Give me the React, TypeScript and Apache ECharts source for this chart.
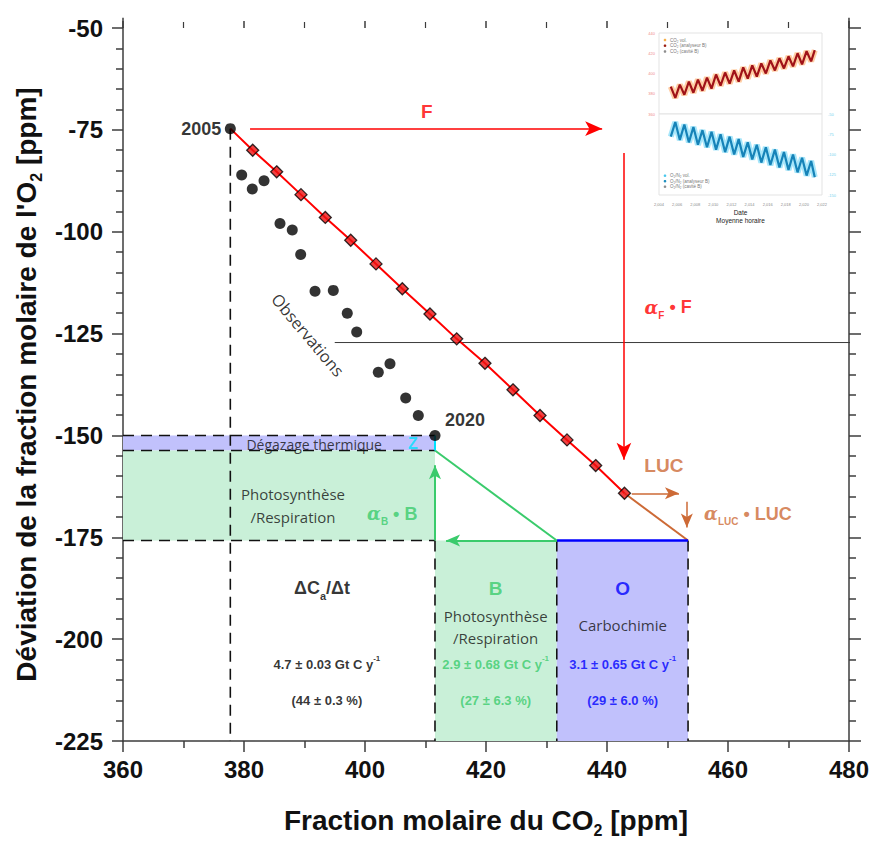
import React, { useEffect, useRef } from "react";
import * as echarts from "echarts";

// ---------- data ----------
// Observed CO2 / O2 pairs, 2005 → 2020 (black dots)
const obsCO2 = [377.74, 379.62, 381.37, 383.31, 385.95, 387.98, 389.37, 391.74, 394.76, 397.07, 398.63, 402.2, 404.13, 406.73, 408.81, 411.57];
const obsO2 = [-74.7, -86.1, -89.5, -87.5, -98.0, -99.6, -105.6, -114.6, -114.4, -120.0, -124.6, -134.5, -132.4, -140.8, -145.1, -150.0];

// Fossil-fuel trajectory, 2006 → 2020 (red diamonds)
const ffCO2 = [381.44, 385.4, 389.42, 393.44, 397.64, 401.82, 406.17, 410.74, 415.16, 419.83, 424.46, 428.93, 433.39, 438.13, 442.89];
const ffO2 = [-80.0, -85.3, -90.9, -96.5, -102.1, -107.9, -114.0, -120.2, -126.3, -132.3, -138.8, -145.1, -151.1, -157.4, -164.2];

// Budget geometry (ppm)
const lucEnd = [453.4, -175.8];
const budgetX = [360, 411.57, 431.7, 453.4];
const budgetY = [-150, -153.7, -175.8, -225];

// Inset (hourly station record), half-year extremes
const insetYears = [2005.3, 2005.8, 2006.3, 2006.8, 2007.3, 2007.8, 2008.3, 2008.8, 2009.3, 2009.8, 2010.3, 2010.8, 2011.3, 2011.8, 2012.3, 2012.8, 2013.3, 2013.8, 2014.3, 2014.8, 2015.3, 2015.8, 2016.3, 2016.8, 2017.3, 2017.8, 2018.3, 2018.8, 2019.3, 2019.8, 2020.3, 2020.8, 2021.2];
const insetCO2 = [387, 376, 389, 379, 392, 381, 394, 383, 396, 385, 399, 388, 401, 390, 403, 392, 406, 395, 408, 397, 410, 400, 413, 403, 415, 405, 417, 407, 420, 409, 422, 412, 423];
const insetO2 = [-78, -60, -82, -63, -85, -66, -88, -70, -91, -72, -94, -75, -97, -78, -100, -81, -103, -85, -106, -88, -110, -91, -113, -94, -116, -97, -119, -100, -122, -104, -126, -108, -128];

// Axis ticks
const xTicks = { min: 360, max: 480, step: 20 };
const yTicks = { min: -225, max: -50, step: 25 };

// ---------- styles ----------
const SANS = '"Liberation Sans", Arial, Helvetica, sans-serif';
const SOFT = '"Open Sans", "Noto Sans", sans-serif';
const AX = "#3c3c3c";
const RED = "#ff0000";
const BROWN = "#cd6a36";
const GREEN = "#3acb6c";
const BLUE = "#0000ff";
const CYAN = "#00e1ff";
const FILL_G = "#c9f0d8";
const FILL_P = "#c1c1fc";

const pairs = (xs: number[], ys: number[]) => xs.map((x, i) => [x, ys[i]]);

function buildOption() {
  const redPath = [[obsCO2[0], obsO2[0]], ...pairs(ffCO2, ffO2)];
  const lastFF = [ffCO2[ffCO2.length - 1], ffO2[ffO2.length - 1]];
  const [x0, xObs, xSplit, xLuc] = budgetX;
  const [yTop, yZ, yBio, yBot] = budgetY;

  const dashed = [
    [[x0, yTop], [xObs, yTop]],
    [[x0, yZ], [xObs, yZ]],
    [[x0, yBio], [xObs, yBio]],
    [[obsCO2[0], obsO2[0]], [obsCO2[0], yBot]],
    [[xObs, yBio], [xObs, yBot]],
    [[xSplit, yBio], [xSplit, yBot]],
    [[xLuc, yBio], [xLuc, yBot]],
  ];

  const plain = (data: number[][], color: string, width: number, extra: any = {}) => ({
    type: "line",
    xAxisIndex: 0,
    yAxisIndex: 0,
    data,
    symbol: "none",
    silent: true,
    z: 4,
    lineStyle: { color, width, type: "solid" },
    ...extra,
  });

  const boldTxt = (size: number, color: string) => ({ fontFamily: SANS, fontWeight: "bold", fontSize: size, color });

  const richAlpha = (color: string) => ({
    a: { ...boldTxt(18, color), fontFamily: '"DejaVu Serif", serif', fontStyle: "italic" },
    s: { ...boldTxt(10, color), verticalAlign: "bottom", lineHeight: 26 },
    t: { ...boldTxt(18, color) },
  });
  const richSup = (color: string) => ({
    t: { ...boldTxt(13, color) },
    u: { ...boldTxt(8, color), verticalAlign: "top", lineHeight: 20 },
  });

  const note = (x: number, y: number, text: string, style: any) => ({
    value: [x, y],
    label: {
      show: true,
      position: [0, 0],
      align: "center",
      verticalAlign: "middle",
      formatter: text,
      ...style,
    },
  });

  const notes = [
    note(obsCO2[0], obsO2[0], "2005", { ...boldTxt(18, "#000"), align: "right", offset: [-9, 0] }),
    note(obsCO2[15], obsO2[15], "2020", { ...boldTxt(18, "#000"), align: "left", offset: [10, -15] }),
    note(410.2, -70.4, "F", boldTxt(19, RED)),
    note(450.1, -118.6, "{a|α}{s|F}{t| • F}", { rich: richAlpha(RED) }),
    note(449.4, -157.4, "LUC", boldTxt(19, BROWN)),
    note(463.3, -169.2, "{a|α}{s|LUC}{t| • LUC}", { rich: richAlpha(BROWN) }),
    note(404.5, -169.2, "{a|α}{s|B}{t| • B}", { rich: richAlpha(GREEN) }),
    note(390.6, -125.3, "Observations", { fontFamily: SOFT, fontSize: 16.5, color: "#000", rotate: -50 }),
    note(391.6, -152.2, "Dégazage thermique", { fontFamily: SOFT, fontSize: 14, color: "#111", lineHeight: 15 }),
    note(407.9, -152.1, "Z", boldTxt(16, CYAN)),
    note(388.1, -167.3, "Photosynthèse\n/Respiration", { fontFamily: SOFT, fontSize: 15, color: "#111", lineHeight: 23 }),
    note(392.9, -187.5, "{t|ΔC}{s|a}{t|/Δt}", {
      rich: {
        t: boldTxt(18, "#000"),
        s: { ...boldTxt(11, "#000"), verticalAlign: "bottom", lineHeight: 26 },
      },
    }),
    note(393.7, -206.3, "{t|4.7 ± 0.03 Gt C y}{u|-1}", { rich: richSup("#000") }),
    note(393.7, -215.0, "(44 ± 0.3 %)", boldTxt(13, "#000")),
    note(421.6, -187.5, "B", boldTxt(19, GREEN)),
    note(421.6, -197.1, "Photosynthèse\n/Respiration", { fontFamily: SOFT, fontSize: 15, color: "#111", lineHeight: 22 }),
    note(421.6, -206.3, "{t|2.9 ± 0.68 Gt C y}{u|-1}", { rich: richSup(GREEN) }),
    note(421.6, -215.0, "(27 ± 6.3 %)", boldTxt(13, GREEN)),
    note(442.6, -187.5, "O", boldTxt(19, BLUE)),
    note(442.6, -196.6, "Carbochimie", { fontFamily: SOFT, fontSize: 15, color: "#111" }),
    note(442.6, -206.3, "{t|3.1 ± 0.65 Gt C y}{u|-1}", { rich: richSup(BLUE) }),
    note(442.6, -215.0, "(29 ± 6.0 %)", boldTxt(13, BLUE)),
  ];

  const axisLineStyle = { color: AX, width: 1.5 };
  const tickFont = { fontFamily: SANS, fontWeight: "bold", fontSize: 24, color: "#111" };
  const titleFont = {
    fontFamily: SANS,
    fontWeight: "bold",
    fontSize: 28,
    color: "#111",
    rich: { s: { fontFamily: SANS, fontWeight: "bold", fontSize: 16, color: "#111", verticalAlign: "bottom", lineHeight: 36 } },
  };

  const insetAxisBase = {
    type: "value",
    axisLine: { show: false },
    axisTick: { show: false },
    splitLine: { show: false },
  };

  const miniTxt = (x: number, y: number, text: string, fill: string, size = 4.5, extra: any = {}) => ({
    type: "text",
    x,
    y,
    silent: true,
    style: { text, fill, fontSize: size, fontFamily: SANS, align: "left", verticalAlign: "middle", ...extra },
  });

  return {
    animation: false,
    backgroundColor: "#ffffff",
    grid: [
      { left: 123, right: 23, top: 28, bottom: 89 },
      { left: 659, top: 33, width: 163, height: 81, show: true, borderColor: "#e3e3e3", borderWidth: 1, backgroundColor: "#fff" },
      { left: 659, top: 114, width: 163, height: 81, show: true, borderColor: "#e3e3e3", borderWidth: 1, backgroundColor: "#fff" },
    ],
    xAxis: [
      {
        gridIndex: 0,
        type: "value",
        position: "bottom",
        min: xTicks.min,
        max: xTicks.max,
        interval: xTicks.step,
        axisLine: { onZero: false, lineStyle: axisLineStyle },
        axisTick: { length: 11, lineStyle: axisLineStyle },
        minorTick: { show: true, splitNumber: 2, length: 7, lineStyle: axisLineStyle },
        splitLine: { show: false },
        axisLabel: { margin: 16, ...tickFont },
        name: "Fraction molaire du CO{s|2} [ppm]",
        nameLocation: "middle",
        nameGap: 61,
        nameTextStyle: titleFont,
      },
      {
        gridIndex: 0,
        type: "value",
        position: "top",
        min: xTicks.min,
        max: xTicks.max,
        interval: xTicks.step,
        axisLine: { show: false, onZero: false },
        axisTick: { length: 7, lineStyle: axisLineStyle },
        minorTick: { show: true, splitNumber: 2, length: 6, lineStyle: { color: AX, width: 1.2 } },
        splitLine: { show: false },
        axisLabel: { show: false },
      },
      { ...insetAxisBase, gridIndex: 1, min: 2004, max: 2022, interval: 2, axisLabel: { show: false } },
      {
        ...insetAxisBase,
        gridIndex: 2,
        min: 2004,
        max: 2022,
        interval: 2,
        axisLabel: { show: true, fontSize: 4, color: "#8a8a8a", margin: 7, fontFamily: SANS },
      },
    ],
    yAxis: [
      {
        gridIndex: 0,
        type: "value",
        position: "left",
        min: yTicks.min,
        max: yTicks.max,
        interval: yTicks.step,
        axisLine: { show: true, onZero: false, lineStyle: axisLineStyle },
        axisTick: { length: 11, lineStyle: axisLineStyle },
        minorTick: { show: true, splitNumber: 5, length: 7, lineStyle: axisLineStyle },
        splitLine: { show: false },
        axisLabel: { margin: 20, ...tickFont },
        name: "Déviation de la fraction molaire de l'O{s|2} [ppm]",
        nameLocation: "middle",
        nameGap: 76,
        nameTextStyle: titleFont,
      },
      {
        gridIndex: 0,
        type: "value",
        position: "right",
        min: yTicks.min,
        max: yTicks.max,
        interval: yTicks.step,
        axisLine: { show: true, onZero: false, lineStyle: axisLineStyle },
        axisTick: { length: 12, lineStyle: axisLineStyle },
        minorTick: { show: true, splitNumber: 5, length: 7, lineStyle: axisLineStyle },
        splitLine: { show: false },
        axisLabel: { show: false },
      },
      {
        ...insetAxisBase,
        gridIndex: 1,
        position: "left",
        min: 360,
        max: 440,
        interval: 20,
        axisLabel: { show: true, fontSize: 4, color: "#f08a8a", margin: 4, fontFamily: SANS },
      },
      {
        ...insetAxisBase,
        gridIndex: 2,
        position: "right",
        min: -150,
        max: -50,
        interval: 25,
        axisLabel: { show: true, fontSize: 4, color: "#79d3ee", margin: 6, fontFamily: SANS },
      },
    ],
    series: [
      // filled budget boxes
      {
        type: "line",
        xAxisIndex: 0,
        yAxisIndex: 0,
        data: [],
        silent: true,
        z: 1,
        markArea: {
          silent: true,
          data: [
            [{ coord: [x0, yTop], itemStyle: { color: FILL_P } }, { coord: [xObs, yZ] }],
            [{ coord: [x0, yZ], itemStyle: { color: FILL_G } }, { coord: [xObs, yBio] }],
            [{ coord: [xObs, yBio], itemStyle: { color: FILL_G } }, { coord: [xSplit, yBot] }],
            [{ coord: [xSplit, yBio], itemStyle: { color: FILL_P } }, { coord: [xLuc, yBot] }],
          ],
        },
      },
      // dashed guides
      ...dashed.map((seg) => plain(seg, "#111", 1.6, { z: 2, lineStyle: { color: "#111", width: 1.6, type: [11, 7] } })),
      // gray reference line reaching past the frame
      plain([[395.0, -127.2], [489.5, -127.2]], "#3a3a3a", 1, { clip: false, z: 2 }),
      // axis lines extended above the frame
      plain([[xTicks.min, yTicks.max], [xTicks.min, -47.5]], AX, 1.5, { clip: false }),
      plain([[xTicks.max, yTicks.max], [xTicks.max, -47.5]], AX, 1.5, { clip: false }),
      // fossil trajectory, LUC, ocean top, biosphere diagonal, Z
      plain(redPath, RED, 2),
      plain([lastFF, lucEnd], BROWN, 2),
      plain([[xSplit, yBio], [xLuc, yBio]], BLUE, 2.5),
      plain([[xSplit, yBio], [xObs, yZ]], GREEN, 2),
      plain([[xObs, yTop], [xObs, yZ]], CYAN, 2),
      // arrows (large)
      {
        type: "line",
        xAxisIndex: 0,
        yAxisIndex: 0,
        data: [],
        silent: true,
        z: 5,
        markLine: {
          silent: true,
          symbol: ["none", "arrow"],
          symbolSize: [11, 17],
          label: { show: false },
          lineStyle: { type: "solid", width: 1.5, color: RED },
          data: [
            [{ coord: [381.0, -74.7] }, { coord: [439.2, -74.7] }],
            [{ coord: [442.8, -80.7] }, { coord: [442.8, -156.0] }],
          ],
        },
      },
      // arrows (small)
      {
        type: "line",
        xAxisIndex: 0,
        yAxisIndex: 0,
        data: [],
        silent: true,
        z: 5,
        markLine: {
          silent: true,
          symbol: ["none", "arrow"],
          symbolSize: [9, 14],
          label: { show: false },
          lineStyle: { type: "solid", width: 1.5 },
          data: [
            [{ coord: [444.1, -164.2], lineStyle: { color: BROWN } }, { coord: [451.9, -164.2] }],
            [{ coord: [453.2, -166.3], lineStyle: { color: BROWN } }, { coord: [453.2, -172.6] }],
            [{ coord: [xSplit, yBio], lineStyle: { color: GREEN, width: 2 } }, { coord: [413.4, yBio] }],
            [{ coord: [xObs, yBio], lineStyle: { color: GREEN, width: 2 } }, { coord: [xObs, -157.3] }],
          ],
        },
      },
      // observations
      {
        type: "scatter",
        xAxisIndex: 0,
        yAxisIndex: 0,
        data: pairs(obsCO2, obsO2),
        symbol: "circle",
        symbolSize: 11,
        itemStyle: { color: "#000" },
        silent: true,
        z: 6,
      },
      // fossil-fuel diamonds
      {
        type: "scatter",
        xAxisIndex: 0,
        yAxisIndex: 0,
        data: pairs(ffCO2, ffO2),
        symbol: "diamond",
        symbolSize: 12,
        itemStyle: { color: "#ee1111", borderColor: "#000", borderWidth: 1.3 },
        silent: true,
        z: 6,
      },
      // annotations
      {
        type: "scatter",
        xAxisIndex: 0,
        yAxisIndex: 0,
        data: notes,
        symbolSize: 0,
        silent: true,
        z: 7,
      },
      // inset: CO2 record
      {
        type: "line",
        xAxisIndex: 2,
        yAxisIndex: 2,
        data: pairs(insetYears, insetCO2),
        symbol: "none",
        silent: true,
        lineStyle: { color: "#ff9d4a", width: 6, opacity: 0.5 },
      },
      {
        type: "line",
        xAxisIndex: 2,
        yAxisIndex: 2,
        data: pairs(insetYears, insetCO2),
        symbol: "none",
        silent: true,
        lineStyle: { color: "#a01218", width: 2.2 },
      },
      // inset: O2 record
      {
        type: "line",
        xAxisIndex: 3,
        yAxisIndex: 3,
        data: pairs(insetYears, insetO2),
        symbol: "none",
        silent: true,
        lineStyle: { color: "#5fd2f6", width: 6, opacity: 0.55 },
      },
      {
        type: "line",
        xAxisIndex: 3,
        yAxisIndex: 3,
        data: pairs(insetYears, insetO2),
        symbol: "none",
        silent: true,
        lineStyle: { color: "#1683b8", width: 2.2 },
      },
    ],
    graphic: [
      { type: "circle", shape: { cx: 665, cy: 40, r: 1.3 }, style: { fill: "#f6b04a" }, silent: true },
      { type: "circle", shape: { cx: 665, cy: 45.7, r: 1.3 }, style: { fill: "#9b1d12" }, silent: true },
      { type: "circle", shape: { cx: 665, cy: 51.5, r: 1.3 }, style: { fill: "#8e8e8e" }, silent: true },
      miniTxt(670, 40, "CO₂ vol.", "#777"),
      miniTxt(670, 45.7, "CO₂ (analyseur B)", "#777"),
      miniTxt(670, 51.5, "CO₂ (cavité B)", "#777"),
      { type: "circle", shape: { cx: 665, cy: 175.7, r: 1.3 }, style: { fill: "#49c7ec" }, silent: true },
      { type: "circle", shape: { cx: 665, cy: 181.2, r: 1.3 }, style: { fill: "#1f8fbf" }, silent: true },
      { type: "circle", shape: { cx: 665, cy: 186.7, r: 1.3 }, style: { fill: "#8e8e8e" }, silent: true },
      miniTxt(670, 175.7, "O₂/N₂ vol.", "#777"),
      miniTxt(670, 181.2, "O₂/N₂ (analyseur B)", "#777"),
      miniTxt(670, 186.7, "O₂/N₂ (cavité B)", "#777"),
      miniTxt(642, 63, "CO₂ [ppm]", "#f07a7a", 5, { align: "center" }),
      miniTxt(843, 155, "O₂ [ppm]", "#6fcfee", 5, { align: "center" }),
      miniTxt(740.5, 212, "Date", "#222", 6.5, { align: "center" }),
      miniTxt(740.5, 220, "Moyenne horaire", "#222", 6.5, { align: "center" }),
    ].map((g: any, i: number) => {
      if (i === 12) return { ...g, rotation: Math.PI / 2, originX: 642, originY: 63 };
      if (i === 13) return { ...g, rotation: -Math.PI / 2, originX: 843, originY: 155 };
      return g;
    }),
  };
}

export default function App() {
  const ref = useRef<HTMLDivElement>(null);
  useEffect(() => {
    if (!ref.current) return;
    const chart = echarts.init(ref.current, null, { renderer: "svg" });
    chart.setOption(buildOption() as any);
    return () => chart.dispose();
  }, []);
  return (
    <div
      ref={ref}
      style={{ position: "absolute", left: 0, top: 0, width: 872, height: 843, background: "#fff" }}
    />
  );
}
